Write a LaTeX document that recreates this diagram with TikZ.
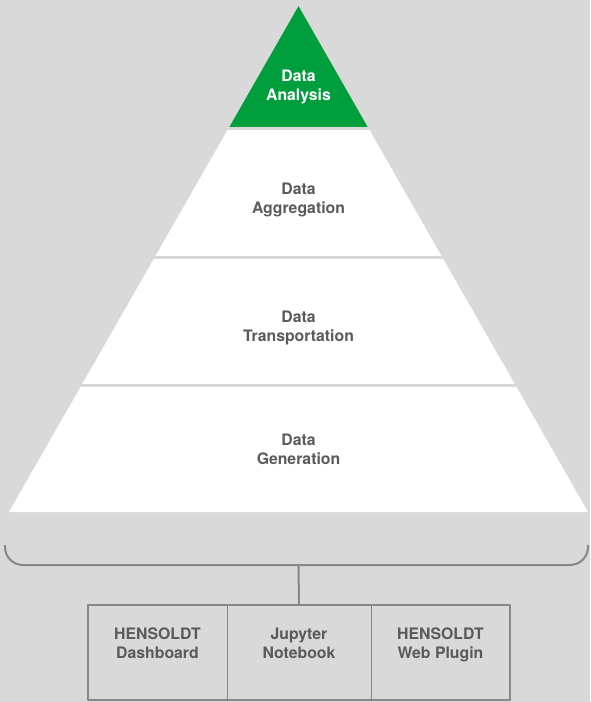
\documentclass[tikz,border=0pt]{standalone}
\usepackage{fontspec}
\setmainfont{TeX Gyre Heros}
\usetikzlibrary{positioning,calc}
\definecolor{bggrey}{HTML}{D9D9D9}
\definecolor{txtgrey}{HTML}{5A5A5A}
\definecolor{lngrey}{HTML}{878787}
\definecolor{hgreen}{HTML}{009E3D}
\begin{document}
\begin{tikzpicture}[x=1pt, y=-1pt, line join=round,
  lbl/.style={align=center, inner sep=0, text=txtgrey, font=\bfseries\fontsize{15.8}{19}\selectfont},
  gap/.style={draw=bggrey, line width=3pt, shorten <=-4pt, shorten >=-4pt},
  bracket/.style={draw=lngrey, line width=2pt},
  cell/.style={draw=lngrey, line width=1pt, minimum height=95pt, outer sep=0, inner sep=0}]
\useasboundingbox[fill=bggrey] (0,0) rectangle (590,702);
\def\top{6}
\path (298.5,\top) coordinate (T) (9,512) coordinate (L) (588,512) coordinate (R)
(298.5,565) coordinate (brk);
% pyramid
\fill[white] (T)--(L)--(R)--cycle;
\fill[hgreen] (T)--($(T)!0.2421!(L)$)--($(T)!0.2421!(R)$)--cycle;
\foreach \f in {0.2421,0.497,0.75}{\draw[gap] ($(T)!\f!(L)$)--($(T)!\f!(R)$);}
\node[lbl, text=white] (analysis) at (298.5,87) {Data\\Analysis};
\foreach \n/\y/\t in {aggregation/200/Aggregation, transport/328/Transportation, generation/449/Generation}{
  \node[lbl] (\n) at (298.5,\y) {Data\\\t};}
% bracket and tools
\draw[bracket, rounded corners=18pt] (5,545)--(5,565)--(588,565)--(588,545);
\node[cell, minimum width=139pt] (dash) at (157.5,652.5) {};
\node[cell, minimum width=144pt, right=0pt of dash] (jup) {};
\node[cell, minimum width=139pt, right=0pt of jup] (plugin) {};
\draw[bracket] (dash.north west) rectangle (plugin.south east);
\draw[bracket] (brk)--(jup.north);
\foreach \c/\t in {dash/HENSOLDT\\Dashboard, jup/Jupyter\\Notebook, plugin/HENSOLDT\\Web Plugin}{
  \node[lbl, below=23pt of \c.north] (\c-txt) {\t};}
\end{tikzpicture}
\end{document}
